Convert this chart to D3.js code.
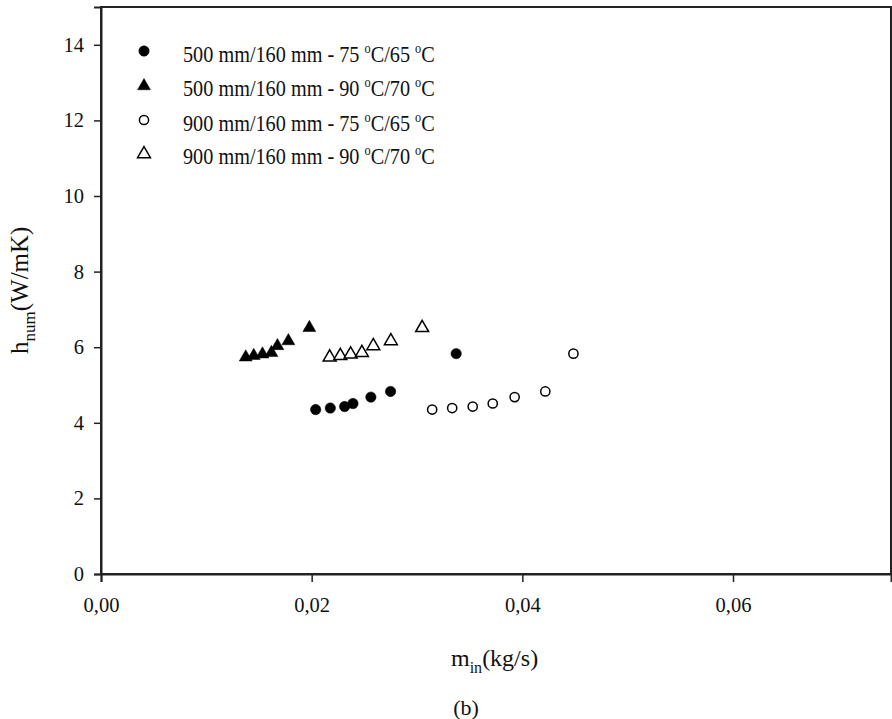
<!DOCTYPE html>
<html><head><meta charset="utf-8">
<script src="https://cdn.jsdelivr.net/npm/d3@7/dist/d3.min.js"></script>
<style>body{margin:0;background:#fff}svg{display:block}text{font-family:"Liberation Serif","Times New Roman",serif;fill:#111}</style>
</head><body>
<svg id="c" width="892" height="719"></svg>
<script>
const xTicks = [0, 0.02, 0.04, 0.06];
const yTicks = [0, 2, 4, 6, 8, 10, 12, 14];
const legendLabels = [
  ["500 mm/160 mm - 75 ", "C/65 ", "C"],
  ["500 mm/160 mm - 90 ", "C/70 ", "C"],
  ["900 mm/160 mm - 75 ", "C/65 ", "C"],
  ["900 mm/160 mm - 90 ", "C/70 ", "C"]
];
const s1x = [0.02038, 0.02177, 0.02313, 0.02392, 0.02562, 0.02749, 0.03372];
const s1y = [4.35, 4.39, 4.43, 4.51, 4.68, 4.83, 5.83];
const s2x = [0.01374, 0.0145, 0.01533, 0.01618, 0.01675, 0.01779, 0.01978];
const s2y = [5.76, 5.80, 5.84, 5.88, 6.06, 6.19, 6.54];
const s3x = [0.03144, 0.03334, 0.03529, 0.03719, 0.03927, 0.04218, 0.04485];
const s3y = [4.35, 4.39, 4.43, 4.51, 4.68, 4.83, 5.83];
const s4x = [0.02171, 0.02272, 0.0237, 0.02477, 0.02585, 0.02752, 0.03049];
const s4y = [5.76, 5.80, 5.84, 5.88, 6.06, 6.19, 6.54];

const svg = d3.select("#c");
const L = 101, R = 891, T = 7, B = 574;
const x = d3.scaleLinear().domain([0, 0.075]).range([L, R]);
const y = d3.scaleLinear().domain([0, 15]).range([B, T]);

svg.append("rect").attr("x", L).attr("y", T).attr("width", R - L).attr("height", B - T)
  .attr("fill", "none").attr("stroke", "#222").attr("stroke-width", 2);

const fmt = d => d3.format(".2f")(d).replace(".", ",");
const gx = svg.append("g").attr("transform", `translate(0,${B})`)
  .call(d3.axisBottom(x).tickValues(xTicks).tickFormat(fmt).tickSize(8).tickPadding(15));
const gy = svg.append("g").attr("transform", `translate(${L},0)`)
  .call(d3.axisLeft(y).tickValues(yTicks).tickSize(7).tickPadding(10));
[gx, gy].forEach(g => {
  g.select(".domain").attr("stroke", "#222").attr("stroke-width", 2);
  g.selectAll(".tick line").attr("stroke", "#222").attr("stroke-width", 1.5);
  g.selectAll(".tick text").attr("font-family", "Liberation Serif").attr("font-size", 20.5).attr("fill", "#111");
});

const tri = d3.symbol().type(d3.symbolTriangle).size(72);
const series = [
  {xs: s1x, ys: s1y, shape: "circle", filled: true},
  {xs: s2x, ys: s2y, shape: "tri", filled: true},
  {xs: s3x, ys: s3y, shape: "circle", filled: false},
  {xs: s4x, ys: s4y, shape: "tri", filled: false}
];
function drawMarker(g, shape, filled, cx, cy) {
  if (shape === "circle") {
    g.append("circle").attr("cx", cx).attr("cy", cy).attr("r", filled ? 5.2 : 4.6)
      .attr("fill", filled ? "#000" : "#fff").attr("stroke", "#000").attr("stroke-width", filled ? 0.5 : 1.5);
  } else {
    g.append("path").attr("d", tri).attr("transform", `translate(${cx},${cy + 1})`)
      .attr("fill", filled ? "#000" : "#fff").attr("stroke", "#000").attr("stroke-width", filled ? 0.5 : 1.5);
  }
}
const gm = svg.append("g");
series.forEach(s => {
  s.xs.forEach((v, i) => drawMarker(gm, s.shape, s.filled, x(v), y(s.ys[i])));
});

const lg = svg.append("g");
const rowsY = [51, 85, 120, 153];
series.forEach((s, i) => {
  drawMarker(lg, s.shape, s.filled, 144, rowsY[i]);
  const t = lg.append("text").attr("transform", `translate(183,${rowsY[i] + 11}) scale(0.88,1)`).attr("font-size", 23);
  const p = legendLabels[i];
  t.append("tspan").text(p[0]);
  t.append("tspan").attr("dy", -9).attr("font-size", 14).text("o");
  t.append("tspan").attr("dy", 9).text(p[1]);
  t.append("tspan").attr("dy", -9).attr("font-size", 14).text("o");
  t.append("tspan").attr("dy", 9).text(p[2]);
});

const xt = svg.append("text").attr("x", 451).attr("y", 666).attr("font-size", 24);
xt.append("tspan").text("m");
xt.append("tspan").attr("dy", 7).attr("font-size", 16).text("in");
xt.append("tspan").attr("dy", -7).text("(kg/s)");

const yt = svg.append("text").attr("transform", "translate(28,354) rotate(-90)").attr("font-size", 25);
yt.append("tspan").text("h");
yt.append("tspan").attr("dy", 7).attr("font-size", 17).text("num");
yt.append("tspan").attr("dy", -7).text("(W/mK)");

svg.append("text").attr("x", 466).attr("y", 715).attr("text-anchor", "middle").attr("font-size", 22).text("(b)");
</script>
</body></html>
